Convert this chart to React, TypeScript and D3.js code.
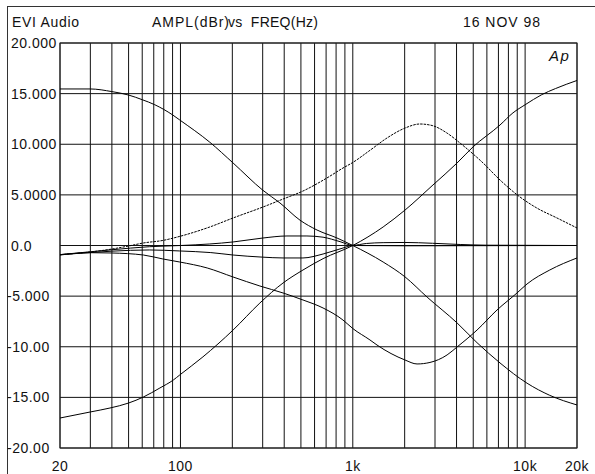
import React from 'react';
import * as d3 from 'd3';

// readings in [Hz, dBr]; every curve is normalised to 0 dB at 1 kHz
const bassBoostTrebleCut: [number, number][] = [
  [20, 15.46], [30, 15.46], [40, 15.2], [50, 14.86], [60, 14.4], [71, 13.9], [90, 12.9],
  [99, 12.4], [148, 10.2], [202, 8.15], [301, 5.45], [378, 4.2], [494, 2.5], [620, 1.53],
  [810, 0.74], [1000, 0], [1500, -1.63], [2010, -3.1], [2700, -5.1], [4030, -7.65],
  [5260, -9.6], [7150, -11.6], [10260, -13.6], [13900, -14.8], [20000, -15.75],
];

const bassCutTrebleBoost: [number, number][] = [
  [20, -17.04], [30, -16.44], [39, -16.05], [50, -15.56], [61, -14.96], [76, -14.07],
  [91, -13.28], [99, -12.79], [135, -11.0], [202, -8.35], [289, -5.68], [394, -3.7],
  [514, -2.42], [672, -1.3], [1000, 0], [1500, 1.83], [2010, 3.5], [2920, 5.98],
  [4030, 8.15], [4980, 9.73], [7150, 11.9], [8500, 13.1], [10000, 13.9], [12500, 14.9],
  [15000, 15.5], [20000, 16.3],
];

const midPeak: [number, number][] = [
  [20, -0.91], [30, -0.64], [40, -0.35], [50, -0.05], [61, 0.25], [79, 0.5], [99, 0.9],
  [148, 1.83], [202, 2.72], [301, 3.8], [394, 4.59], [514, 5.38], [708, 6.67], [877, 7.65],
  [1000, 8.2], [1258, 9.4], [1580, 10.62], [2010, 11.6], [2450, 12.0], [2885, 11.85],
  [3525, 11.1], [4190, 10.12], [5700, 8.15], [7150, 6.47], [9340, 4.79], [11700, 3.7],
  [15300, 2.72], [20000, 1.73],
];

const midCut: [number, number][] = [
  [20, -0.94], [30, -0.71], [40, -0.74], [61, -0.94], [79, -1.33], [99, -1.63],
  [143, -2.22], [202, -3.11], [289, -4.0], [394, -4.69], [514, -5.38], [672, -6.17],
  [877, -7.36], [1000, -8.2], [1258, -9.33], [1382, -9.83], [2010, -11.31], [2360, -11.7],
  [2805, -11.55], [3525, -10.81], [4030, -10.02], [5260, -8.35], [6870, -6.37],
  [8970, -4.69], [10260, -3.8], [13900, -2.42], [20000, -1.23],
];

const lowMidBump: [number, number][] = [
  [20, -0.9], [30, -0.62], [40, -0.42], [66, -0.12], [100, 0.0], [148, 0.15], [202, 0.35],
  [301, 0.74], [415, 0.94], [542, 0.94], [672, 0.82], [843, 0.38], [1000, 0.02],
  [1200, 0.2], [1500, 0.28], [2000, 0.3], [2900, 0.22], [4200, 0.1], [6000, 0.03],
  [20000, 0],
];

const lowMidDip: [number, number][] = [
  [20, -0.9], [30, -0.7], [40, -0.56], [66, -0.44], [99, -0.54], [150, -0.7], [202, -0.94],
  [300, -1.15], [394, -1.23], [514, -1.23], [672, -0.84], [877, -0.25], [1000, 0],
  [2000, -0.03], [20000, 0],
];

const yTicks = [20, 15, 10, 5, 0, -5, -10, -15, -20];
const yLabels = ['20.000', '15.000', '10.000', '5.0000', '0.0', '-5.000', '-10.00', '-15.00', '-20.00'];
const xLabelFreqs = [20, 100, 1000, 10000, 20000];
const xLabels = ['20', '100', '1k', '10k', '20k'];

const font = '"Liberation Sans", Arial, sans-serif';

export default function App() {
  const width = 595;
  const height = 474;
  const margin = { top: 43, right: 18, bottom: 26, left: 60 };

  const x = d3.scaleLog().domain([20, 20000]).range([margin.left, width - margin.right]);
  const y = d3.scaleLinear().domain([-20, 20]).range([height - margin.bottom, margin.top]);

  const line = d3.line<[number, number]>()
    .x(d => x(d[0]))
    .y(d => y(d[1]))
    .curve(d3.curveMonotoneX);

  const solid = [bassBoostTrebleCut, bassCutTrebleBoost, midCut, lowMidBump, lowMidDip];
  const gridFreqs = x.ticks();

  return (
    <svg width={width} height={height} style={{ position: 'absolute', left: 0, top: 0, background: '#fff' }}>
      {/* outer frame */}
      <rect x={7.5} y={6.5} width={620} height={500} fill="none" stroke="#333" />

      <text x={12} y={27} fontFamily={font} fontSize={14} textLength={67} fill="#111">EVI Audio</text>
      <text x={152} y={27} fontFamily={font} fontSize={14} textLength={77} fill="#111">AMPL(dBr)</text>
      <text x={228} y={27} fontFamily={font} fontSize={14} textLength={90} fill="#111" xmlSpace="preserve">vs  FREQ(Hz)</text>
      <text x={463} y={27} fontFamily={font} fontSize={14} textLength={77} fill="#111">16 NOV 98</text>

      {/* grid */}
      {gridFreqs.map(f => (
        <line key={'v' + f} x1={x(f)} x2={x(f)} y1={y(20)} y2={y(-20)} stroke="#111" strokeWidth={1} />
      ))}
      {yTicks.map(v => (
        <line key={'h' + v} x1={x(20)} x2={x(20000)} y1={y(v)} y2={y(v)} stroke="#111" strokeWidth={1} />
      ))}
      <rect x={x(20)} y={y(20)} width={x(20000) - x(20)} height={y(-20) - y(20)} fill="none" stroke="#222" />

      {/* curves */}
      {solid.map((c, i) => (
        <path key={i} d={line(c) || ''} fill="none" stroke="#000" strokeWidth={1} />
      ))}
      <path d={line(midPeak) || ''} fill="none" stroke="#000" strokeWidth={1} strokeDasharray="2.5 1" />

      {/* axis labels */}
      {yTicks.map((v, i) => (
        <text key={'yl' + v} x={yLabels[i].startsWith('-') ? 7 : 11} y={y(v) + 5}
          fontFamily={font} fontSize={14} letterSpacing={0.5} fill="#111">{yLabels[i]}</text>
      ))}
      {xLabelFreqs.map((f, i) => (
        <text key={'xl' + f} x={x(f)} y={471} textAnchor="middle"
          fontFamily={font} fontSize={14} letterSpacing={0.5} fill="#111">{xLabels[i]}</text>
      ))}

      <text x={549} y={61} fontFamily={font} fontSize={15} fontStyle="italic" letterSpacing={1.5} fill="#111">Ap</text>
    </svg>
  );
}
